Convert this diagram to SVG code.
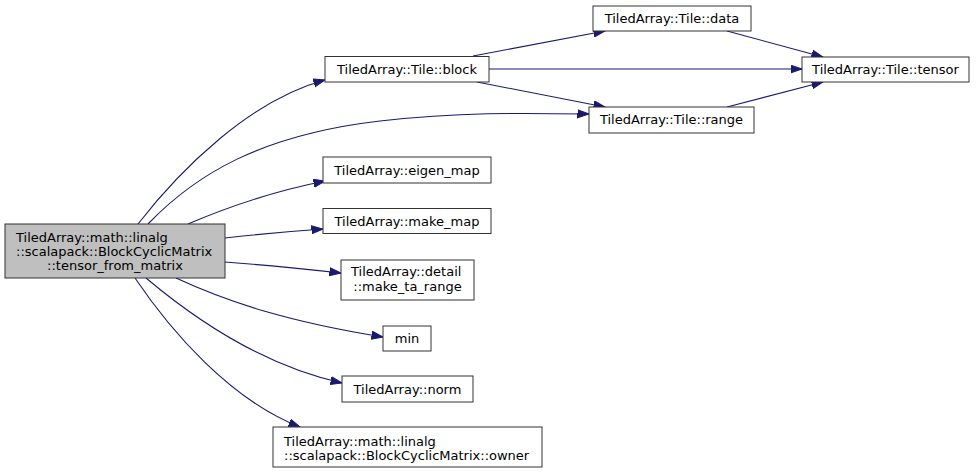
<svg xmlns="http://www.w3.org/2000/svg" width="977" height="474" viewBox="0 0 977 474">
<defs>
<style>
.n rect{fill:#ffffff;stroke:#333333;stroke-width:1}
.n.main rect{fill:#bfbfbf}
text{font-family:"DejaVu Sans","Liberation Sans",sans-serif;font-size:13px;fill:#000}
.m{text-anchor:middle}
.e path{fill:none;stroke:#191970;stroke-width:1.1;marker-end:url(#ah)}
</style>
<marker id="ah" markerUnits="userSpaceOnUse" markerWidth="13" markerHeight="10" refX="11.5" refY="4.5" orient="auto">
<path d="M0,0.5 L11.5,4.5 L0,8.5 z" fill="#191970" stroke="#191970" stroke-width="1"/>
</marker>
</defs>
<rect width="977" height="474" fill="#ffffff"/>
<g class="e" id="edges">
<path d="M138,224 C180,170 250,100 325,80"/>
<path d="M148,224 C195,175 260,135 380,121 C460,112 520,113 589,114"/>
<path d="M188,224 C230,206 280,190 325,181"/>
<path d="M225,238 C260,234 295,231 323,229"/>
<path d="M225,262 C265,265 305,269 341,273"/>
<path d="M176,278 C230,303 290,322 383,337"/>
<path d="M146,278 C190,315 260,365 342,383"/>
<path d="M135,278 C170,330 230,400 300,427"/>
<path d="M473,56 L605,31"/>
<path d="M489,69 L802,69"/>
<path d="M477,82 L605,107"/>
<path d="M727,31 L823,57"/>
<path d="M727,107 L823,82"/>
</g>
<g class="n main" id="node_main">
<rect x="5" y="224" width="220" height="54"/>
<text x="16" y="241.5">TiledArray::math::linalg</text>
<text x="16" y="255.5">::scalapack::BlockCyclicMatrix</text>
<text class="m" x="115" y="269.5">::tensor_from_matrix</text>
</g>
<g class="n" id="node_block">
<rect x="325" y="56.5" width="164" height="25.5"/>
<text class="m" x="407" y="73.5">TiledArray::Tile::block</text>
</g>
<g class="n" id="node_data">
<rect x="593" y="6" width="158" height="25"/>
<text class="m" x="672" y="22.5">TiledArray::Tile::data</text>
</g>
<g class="n" id="node_tensor">
<rect x="802" y="57" width="167" height="25"/>
<text class="m" x="885.5" y="74">TiledArray::Tile::tensor</text>
</g>
<g class="n" id="node_range">
<rect x="589" y="107" width="165" height="26"/>
<text class="m" x="671.5" y="124">TiledArray::Tile::range</text>
</g>
<g class="n" id="node_eigen_map">
<rect x="323" y="157" width="168" height="26"/>
<text class="m" x="407" y="174.5">TiledArray::eigen_map</text>
</g>
<g class="n" id="node_make_map">
<rect x="323" y="208.5" width="168" height="25"/>
<text class="m" x="407" y="225.5">TiledArray::make_map</text>
</g>
<g class="n" id="node_make_ta_range">
<rect x="341" y="260" width="133" height="40"/>
<text x="351" y="276">TiledArray::detail</text>
<text class="m" x="407.5" y="291">::make_ta_range</text>
</g>
<g class="n" id="node_min">
<rect x="383" y="326" width="48" height="25"/>
<text class="m" x="407" y="343">min</text>
</g>
<g class="n" id="node_norm">
<rect x="342" y="376" width="131" height="26"/>
<text class="m" x="407.5" y="393.5">TiledArray::norm</text>
</g>
<g class="n" id="node_owner">
<rect x="273" y="427" width="269" height="40"/>
<text x="284" y="446">TiledArray::math::linalg</text>
<text x="284" y="460">::scalapack::BlockCyclicMatrix::owner</text>
</g>
</svg>
